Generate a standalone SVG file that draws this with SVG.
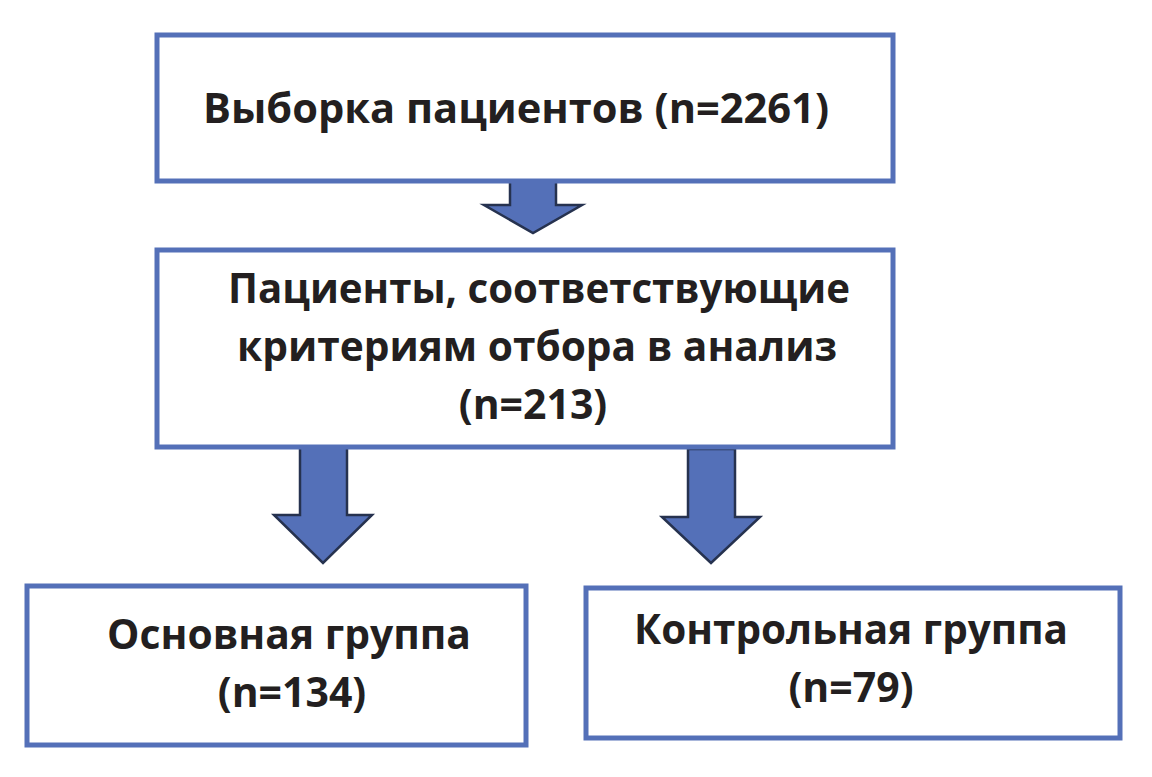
<svg xmlns="http://www.w3.org/2000/svg" width="1152" height="777" viewBox="0 0 1152 777">
<style>
.box{fill:#fff;stroke:#5470b8;stroke-width:5}
.arr{fill:#5470b8;stroke:#26324f;stroke-width:2.5;stroke-linejoin:miter}
text{font-family:"Open Sans","Liberation Sans",sans-serif;font-weight:bold;font-size:41px;fill:#231f20;text-anchor:middle}
</style>
<rect width="1152" height="777" fill="#fff"/>
<g id="connectors">
<polygon class="arr" points="510,176 556,176 556,205 582,205 533,233 484,205 510,205"/>
<polygon class="arr" points="300,447 347,447 347,515 372,515 323,563 274,515 300,515"/>
<polygon class="arr" points="688,449 735,449 735,517 760,517 711,563 662,517 688,517"/>
</g>
<g id="n1"><rect class="box" x="157" y="35" width="736" height="146"/>
<text x="516" y="123" textLength="626" lengthAdjust="spacingAndGlyphs">Выборка пациентов (n=2261)</text></g>
<g id="n2"><rect class="box" x="157" y="250" width="736" height="197"/>
<text x="539" y="303" textLength="622" lengthAdjust="spacingAndGlyphs">Пациенты, соответствующие</text>
<text x="537" y="361" textLength="600" lengthAdjust="spacingAndGlyphs">критериям отбора в анализ</text>
<text x="533" y="419">(n=213)</text></g>
<g id="n3"><rect class="box" x="27" y="586" width="499" height="159"/>
<text x="289" y="649" textLength="364" lengthAdjust="spacingAndGlyphs">Основная группа</text>
<text x="292" y="707">(n=134)</text></g>
<g id="n4"><rect class="box" x="586" y="588" width="534" height="150"/>
<text x="851" y="644" textLength="434" lengthAdjust="spacingAndGlyphs">Контрольная группа</text>
<text x="851" y="702">(n=79)</text></g>
</svg>
